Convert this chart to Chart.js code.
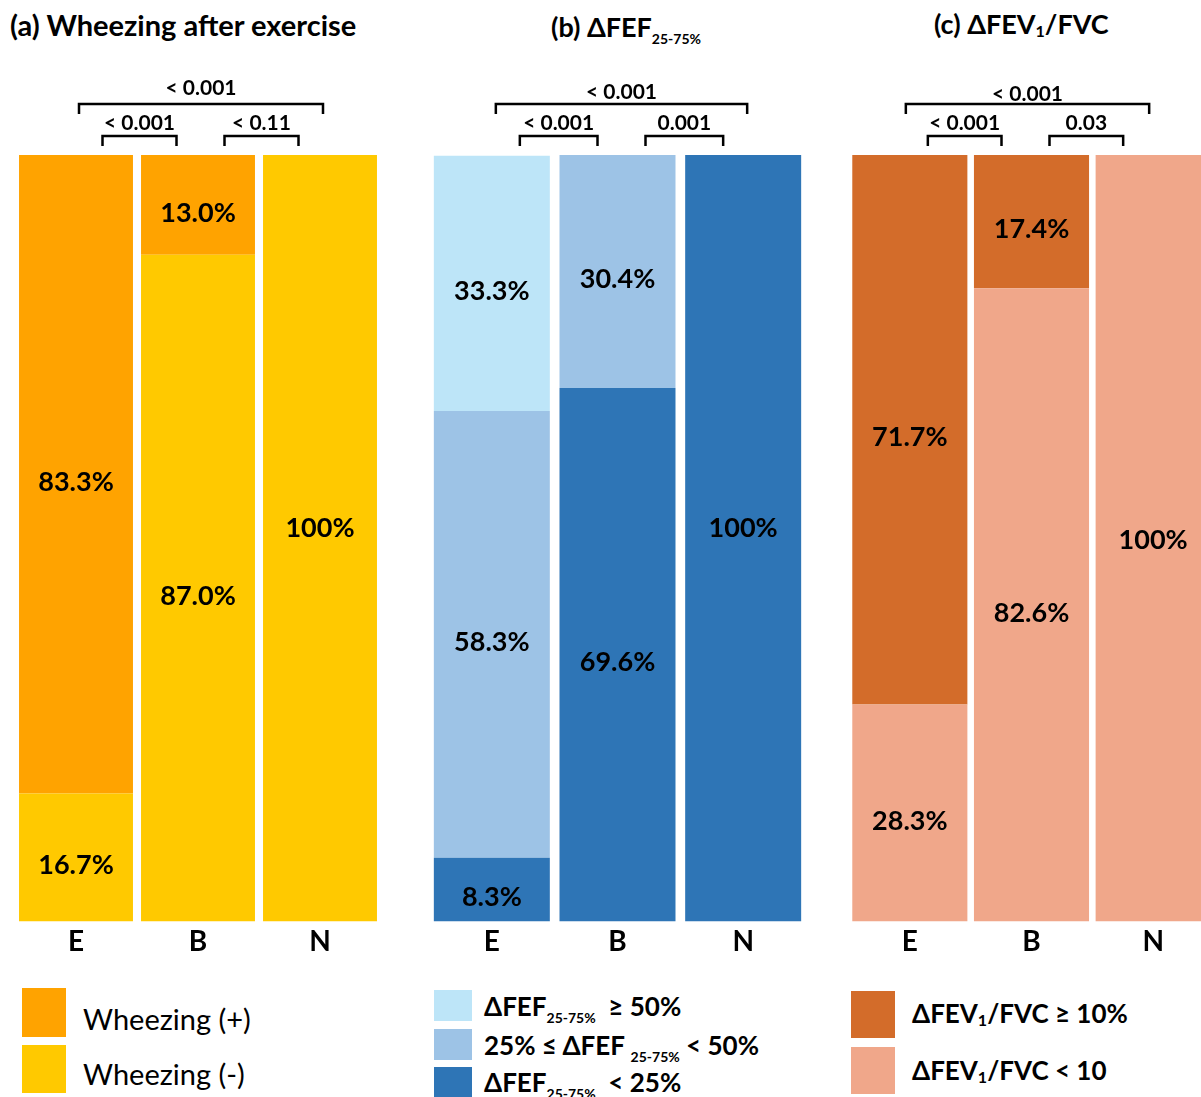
<!DOCTYPE html>
<html><head><meta charset="utf-8">
<script src="https://cdn.jsdelivr.net/npm/chart.js@4.4.1/dist/chart.umd.min.js"></script>
<style>
body{margin:0;background:#fff;width:1201px;height:1097px;overflow:hidden;position:relative;font-family:Lato,"DejaVu Sans",sans-serif;color:#000;}
.box{position:absolute;}
.title{position:absolute;font-weight:bold;font-size:27px;line-height:1;white-space:nowrap;}
.sw{position:absolute;}
.lg{position:absolute;white-space:nowrap;line-height:1;}
.sub{font-size:14px;vertical-align:-7px;}
.sub1{font-size:16px;vertical-align:-3px;}
</style></head>
<body>
<div class="title" style="left:10px;top:10px;font-size:29px;">(a) Wheezing after exercise</div>
<div class="title" style="left:551px;top:13px;">(b) ΔFEF<span class="sub">25-75%</span></div>
<div class="title" style="left:934px;top:10px;">(c) ΔFEV<span class="sub1">1</span>/FVC</div>

<div class="box" style="left:15px;top:50px;width:366px;height:925px;"><canvas id="ca"></canvas></div>
<div class="box" style="left:429px;top:50px;width:377px;height:925px;"><canvas id="cb"></canvas></div>
<div class="box" style="left:849px;top:50px;width:365px;height:925px;"><canvas id="cc"></canvas></div>

<!-- legends -->
<div class="sw" style="left:22px;top:988px;width:44px;height:49px;background:#FFA300;"></div>
<div class="sw" style="left:22px;top:1045px;width:44px;height:48px;background:#FFC900;"></div>
<div class="lg" style="left:83px;top:1004px;font-size:29px;">Wheezing (+)</div>
<div class="lg" style="left:83px;top:1059px;font-size:29px;">Wheezing (-)</div>

<div class="sw" style="left:434px;top:990px;width:38px;height:31px;background:#BDE5F8;"></div>
<div class="sw" style="left:434px;top:1029px;width:38px;height:31px;background:#9DC3E6;"></div>
<div class="sw" style="left:434px;top:1067px;width:38px;height:31px;background:#2E75B6;"></div>
<div class="lg" style="left:484px;top:993px;font-size:26px;font-weight:bold;">ΔFEF<span class="sub">25-75%</span>&nbsp; ≥ 50%</div>
<div class="lg" style="left:484px;top:1032px;font-size:26px;font-weight:bold;">25% ≤ ΔFEF <span class="sub">25-75%</span> &lt; 50%</div>
<div class="lg" style="left:484px;top:1069px;font-size:26px;font-weight:bold;">ΔFEF<span class="sub">25-75%</span>&nbsp; &lt; 25%</div>

<div class="sw" style="left:851px;top:991px;width:44px;height:47px;background:#D36C2A;"></div>
<div class="sw" style="left:851px;top:1047px;width:44px;height:47px;background:#F0A78A;"></div>
<div class="lg" style="left:912px;top:1000px;font-size:26px;font-weight:bold;">ΔFEV<span class="sub1">1</span>/FVC ≥ 10%</div>
<div class="lg" style="left:912px;top:1057px;font-size:26px;font-weight:bold;">ΔFEV<span class="sub1">1</span>/FVC &lt; 10</div>

<script>
// ---- data ----
const categories = ['E', 'B', 'N'];
const wheezePos = [83.3, 13.0, 0];
const wheezeNeg = [16.7, 87.0, 100];
const fefHigh = [33.3, 0, 0];
const fefMid = [58.3, 30.4, 0];
const fefLow = [8.3, 69.6, 100];
const fevHigh = [71.7, 17.4, 0];
const fevLow = [28.3, 82.6, 100];
// p-values: [E vs B, B vs N, E vs N]
const pA = ['< 0.001', '< 0.11', '< 0.001'];
const pB = ['< 0.001', '0.001', '< 0.001'];
const pC = ['< 0.001', '0.03', '< 0.001'];

const annot = {
  id: 'annot',
  afterDatasetsDraw(chart, args, o) {
    const ctx = chart.ctx, xs = chart.scales.x, top = chart.chartArea.top;
    ctx.save();
    ctx.fillStyle = '#000';
    ctx.textAlign = 'center';
    ctx.textBaseline = 'middle';
    ctx.font = 'bold 27px Lato';
    chart.data.datasets.forEach((ds, di) => {
      chart.getDatasetMeta(di).data.forEach((bar, i) => {
        const v = ds.data[i];
        if (!v) return;
        const cy = (bar.y + bar.base) / 2 + (v >= 100 ? o.fullDy : o.dy);
        ctx.fillText(v >= 100 ? '100%' : v.toFixed(1) + '%', bar.x, cy);
      });
    });
    const c = i => xs.getPixelForValue(i);
    ctx.lineWidth = 2.5;
    ctx.strokeStyle = '#000';
    ctx.font = 'bold 21px Lato';
    const br = (x1, x2, yl, yb, label, ty) => {
      ctx.beginPath();
      ctx.moveTo(x1, yb); ctx.lineTo(x1, yl); ctx.lineTo(x2, yl); ctx.lineTo(x2, yb);
      ctx.stroke();
      ctx.fillText(label, (x1 + x2) / 2, ty);
    };
    const p = o.p;
    br(c(0) + 24 + o.sShift, c(1) - 24 + o.sShift, top - 19, top - 9, p[0], top - 32);
    br(c(1) + 24 + o.sShift, c(2) - 24 + o.sShift, top - 19, top - 9, p[1], top - 32);
    br(c(0) + o.lShift, c(2) + o.lShift, top - 51, top - 41, p[2], top - o.lLabel);
    ctx.restore();
  }
};

function make(id, datasets, barPct, opts) {
  return new Chart(document.getElementById(id), {
    type: 'bar',
    data: { labels: categories, datasets: datasets.map(d => ({
      label: d.label, data: d.data, backgroundColor: d.color, borderWidth: 0,
      barPercentage: barPct, categoryPercentage: 1 })) },
    options: {
      responsive: true, maintainAspectRatio: false, animation: false,
      layout: { padding: { top: 105, bottom: 12, left: 0, right: 0 } },
      plugins: { legend: { display: false }, tooltip: { enabled: false }, annot: opts },
      scales: {
        x: { stacked: true, grid: { display: false, drawTicks: false, tickLength: 0 }, border: { display: false },
             ticks: { color: '#000', padding: 4, font: { family: 'Lato', size: 28, weight: 'bold' } } },
        y: { stacked: true, display: false, min: 0, max: 100 }
      }
    },
    plugins: [annot]
  });
}

make('ca', [
  { label: 'Wheezing (-)', data: wheezeNeg, color: '#FFC900' },
  { label: 'Wheezing (+)', data: wheezePos, color: '#FFA300' }
], 0.934, { p: pA, dy: 8, fullDy: -10, sShift: 2.5, lShift: 3, lLabel: 67 });

make('cb', [
  { label: 'ΔFEF25-75% < 25%', data: fefLow, color: '#2E75B6' },
  { label: '25% ≤ ΔFEF25-75% < 50%', data: fefMid, color: '#9DC3E6' },
  { label: 'ΔFEF25-75% ≥ 50%', data: fefHigh, color: '#BDE5F8' }
], 0.923, { p: pB, dy: 8, fullDy: -10, sShift: 4, lShift: 4, lLabel: 63 });

make('cc', [
  { label: 'ΔFEV1/FVC < 10', data: fevLow, color: '#F0A78A' },
  { label: 'ΔFEV1/FVC ≥ 10%', data: fevHigh, color: '#D36C2A' }
], 0.946, { p: pC, dy: 8, fullDy: 2, sShift: -6, lShift: -4, lLabel: 61 });
</script>
</body></html>
